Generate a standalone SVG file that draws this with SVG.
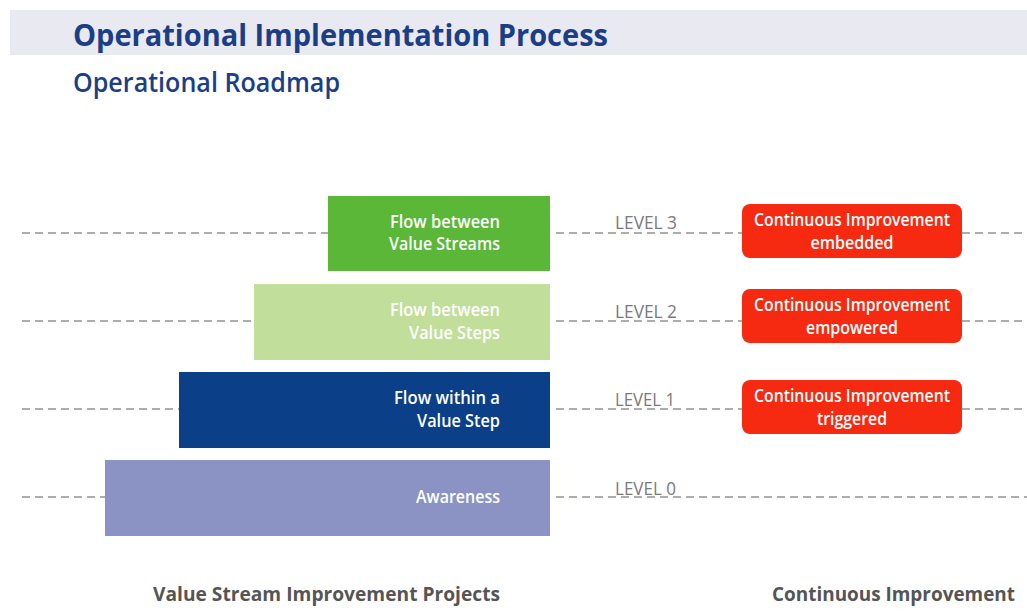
<svg xmlns="http://www.w3.org/2000/svg" width="1027" height="612" viewBox="0 0 1027 612">
<style>
text{font-family:"Open Sans","DejaVu Sans",sans-serif;}
.title{fill:#1b3e87;font-weight:bold;}
.dash{stroke:#929292;stroke-width:1.6;stroke-dasharray:8 5;fill:none;}
.bt{fill:#fff;font-size:18px;font-weight:600;text-anchor:end;}
.lvl{fill:#7a7a7a;font-size:18px;}
.red{fill:#f52a10;}
.rt{fill:#fff;font-size:18px;font-weight:600;text-anchor:middle;}
.foot{fill:#555;font-size:20px;font-weight:bold;}
</style>
<rect x="0" y="0" width="1027" height="612" fill="#fff"/>
<rect x="10" y="10" width="1017" height="45" fill="#e8e9f1"/>
<text class="title" x="73" y="46" font-size="31" textLength="535" lengthAdjust="spacingAndGlyphs">Operational Implementation Process</text>
<text class="title" x="73" y="92" font-size="27" textLength="267" lengthAdjust="spacingAndGlyphs" style="font-weight:600">Operational Roadmap</text>

<g id="connectors">
<line class="dash" x1="22" y1="233" x2="328" y2="233"/>
<line class="dash" x1="556" y1="233" x2="742" y2="233"/>
<line class="dash" x1="962" y1="233" x2="1027" y2="233"/>
<line class="dash" x1="22" y1="321" x2="254" y2="321"/>
<line class="dash" x1="556" y1="321" x2="742" y2="321"/>
<line class="dash" x1="962" y1="321" x2="1027" y2="321"/>
<line class="dash" x1="22" y1="409" x2="179" y2="409"/>
<line class="dash" x1="556" y1="409" x2="742" y2="409"/>
<line class="dash" x1="962" y1="409" x2="1027" y2="409"/>
<line class="dash" x1="22" y1="497" x2="105" y2="497"/>
<line class="dash" x1="556" y1="497" x2="1027" y2="497"/>
</g>

<g id="level3">
<rect x="328" y="196" width="222" height="75" fill="#5ab738"/>
<text class="bt" x="500" y="228" textLength="110" lengthAdjust="spacingAndGlyphs">Flow between</text>
<text class="bt" x="500" y="250" textLength="111" lengthAdjust="spacingAndGlyphs">Value Streams</text>
</g>
<g id="level2">
<rect x="254" y="284" width="296" height="76" fill="#c2de9b"/>
<text class="bt" x="500" y="316" textLength="110" lengthAdjust="spacingAndGlyphs">Flow between</text>
<text class="bt" x="500" y="339" textLength="91" lengthAdjust="spacingAndGlyphs">Value Steps</text>
</g>
<g id="level1">
<rect x="179" y="372" width="371" height="76" fill="#0b3f87"/>
<text class="bt" x="500" y="404" textLength="106" lengthAdjust="spacingAndGlyphs">Flow within a</text>
<text class="bt" x="500" y="427" textLength="83" lengthAdjust="spacingAndGlyphs">Value Step</text>
</g>
<g id="level0">
<rect x="105" y="460" width="445" height="76" fill="#8a93c4"/>
<text class="bt" x="500" y="503" textLength="84" lengthAdjust="spacingAndGlyphs">Awareness</text>
</g>

<g id="labels">
<text class="lvl" x="615" y="229" textLength="62" lengthAdjust="spacingAndGlyphs">LEVEL 3</text>
<text class="lvl" x="615" y="318" textLength="62" lengthAdjust="spacingAndGlyphs">LEVEL 2</text>
<text class="lvl" x="615" y="406" textLength="60" lengthAdjust="spacingAndGlyphs">LEVEL 1</text>
<text class="lvl" x="615" y="495" textLength="61" lengthAdjust="spacingAndGlyphs">LEVEL 0</text>
</g>

<g id="ci3">
<rect class="red" x="742" y="204" width="220" height="54" rx="8"/>
<text class="rt" x="852" y="226" textLength="196" lengthAdjust="spacingAndGlyphs">Continuous Improvement</text>
<text class="rt" x="852" y="249" textLength="83" lengthAdjust="spacingAndGlyphs">embedded</text>
</g>
<g id="ci2">
<rect class="red" x="742" y="289" width="220" height="54" rx="8"/>
<text class="rt" x="852" y="311" textLength="196" lengthAdjust="spacingAndGlyphs">Continuous Improvement</text>
<text class="rt" x="852" y="334" textLength="92" lengthAdjust="spacingAndGlyphs">empowered</text>
</g>
<g id="ci1">
<rect class="red" x="742" y="380" width="220" height="54" rx="8"/>
<text class="rt" x="852" y="402" textLength="196" lengthAdjust="spacingAndGlyphs">Continuous Improvement</text>
<text class="rt" x="852" y="425" textLength="70" lengthAdjust="spacingAndGlyphs">triggered</text>
</g>

<g id="footer">
<text class="foot" x="153" y="601" textLength="347" lengthAdjust="spacingAndGlyphs">Value Stream Improvement Projects</text>
<text class="foot" x="1015" y="601" text-anchor="end" textLength="243" lengthAdjust="spacingAndGlyphs">Continuous Improvement</text>
</g>
</svg>
